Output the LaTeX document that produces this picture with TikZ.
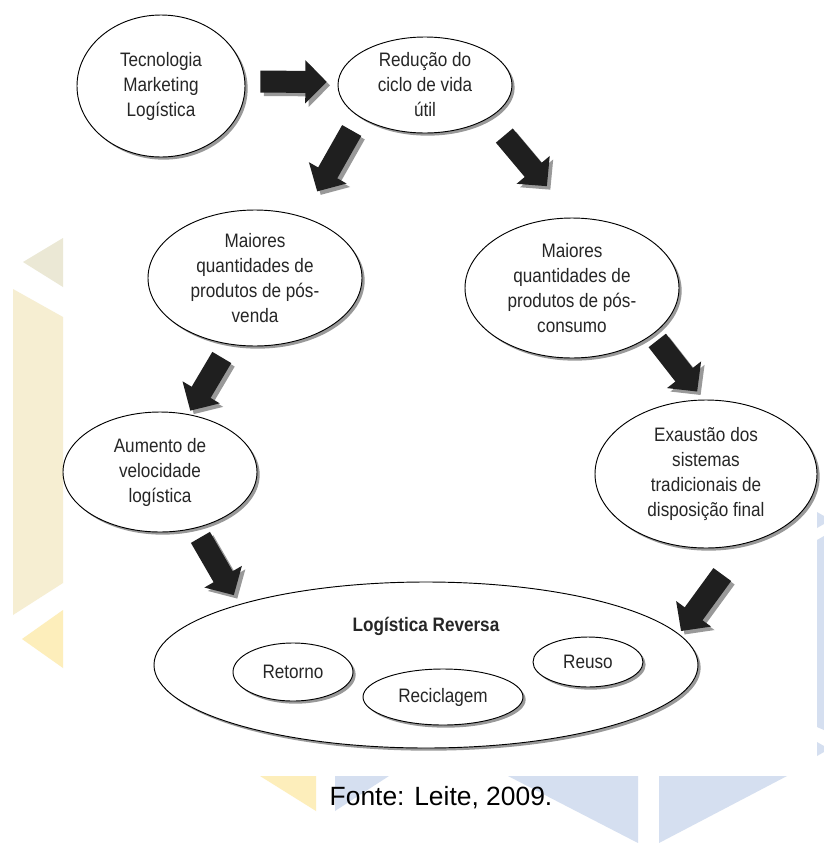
\documentclass[tikz,border=0pt]{standalone}
\usepackage{fontspec}
\setmainfont{Liberation Sans}[FakeStretch=0.88]
\newfontfamily\capfont{Liberation Sans}
\usetikzlibrary{shapes.geometric,arrows.meta,shadows}
\definecolor{wmgray}{HTML}{EBE8D5}
\definecolor{wmbeige}{HTML}{F6EED2}
\definecolor{wmyellow}{HTML}{FDEEBB}
\definecolor{wmblue}{HTML}{D5DFF0}

\begin{document}
\begin{tikzpicture}[x=0.75pt,y=-0.75pt,
    bubble/.style={ellipse, draw, line width=0.7pt, fill=white, inner sep=0pt, align=center,
        font=\fontsize{14.6}{18.75}\selectfont, text=black!85,
        drop shadow={shadow xshift=2pt, shadow yshift=-2pt, fill=black!40, opacity=1}},
    blockarrow/.style={line width=16.5pt, -{Triangle[length=16pt,width=31.5pt]}, draw=black!88},
    arrowshade/.style={blockarrow, draw=black!40, transform canvas={shift={(2.6pt,-2.6pt)}}}]

    \fill[white] (0,0) rectangle (824,843);
    \useasboundingbox (0,0) rectangle (824,843);

    % watermark shapes
    \fill[wmgray] (63,238) -- (63,287) -- (23,262) -- cycle;
    \fill[wmbeige] (13,289) -- (63,317) -- (63,583) -- (13,615) -- cycle;
    \fill[wmyellow] (63,610) -- (63,668) -- (22,639) -- cycle;
    \fill[wmyellow] (260,776) -- (316,776) -- (316,811) -- cycle;
    \fill[wmblue] (817,512) -- (824,516) -- (824,524) -- (817,528) -- cycle;
    \fill[wmblue] (817,540) -- (824,536) -- (824,730) -- (817,727) -- cycle;
    \fill[wmblue] (817,742) -- (824,746) -- (824,752) -- (817,756) -- cycle;
    \fill[wmblue] (335,776) -- (389,776) -- (335,811) -- cycle;
    \fill[wmblue] (508,776) -- (638,776) -- (638,843) -- cycle;
    \fill[wmblue] (659,776) -- (787,776) -- (659,843) -- cycle;

    % ellipses
    \node[bubble, minimum width=126pt, minimum height=106.5pt] (tec) at (161,86) {Tecnologia\\Marketing\\Logística};
    \node[bubble, minimum width=130.5pt, minimum height=72pt] (red) at (425,85) {Redução do\\ciclo de vida\\útil};
    \node[bubble, minimum width=160.5pt, minimum height=102pt] (mvenda) at (255,278) {Maiores\\quantidades de\\produtos de pós-\\venda};
    \node[bubble, minimum width=160.5pt, minimum height=105pt] (mcons) at (572,288) {Maiores\\quantidades de\\produtos de pós-\\consumo};
    \node[bubble, minimum width=145.5pt, minimum height=90pt] (aum) at (160,472) {Aumento de\\velocidade\\logística};
    \node[bubble, minimum width=166.5pt, minimum height=111pt] (exa) at (706,474) {Exaustão dos\\sistemas\\tradicionais de\\disposição final};
    \node[bubble, minimum width=408pt, minimum height=124.5pt] (lr) at (426,665) {};
    \node[font=\bfseries\fontsize{14.6}{18.75}\selectfont, text=black!85] (lrtitle) at (426,626) {Logística Reversa};
    \node[bubble, minimum width=90pt, minimum height=43.5pt] (ret) at (293,672) {Retorno};
    \node[bubble, minimum width=120pt, minimum height=42pt] (rec) at (443,697) {Reciclagem};
    \node[bubble, minimum width=82.5pt, minimum height=37.5pt] (reu) at (588,662) {Reuso};

    % block arrows
    \foreach \from/\to/\sa/\sb in {tec.3/red.178/11.3/8.3, red.206/mvenda.52/11.6/21.8,
        red.333/mcons.89/17.4/30.7, mvenda.249/aum.64/11.3/3, mcons.330/exa.92/5.6/7.6,
        aum.302/lr.162/7.8/7.9, exa.299/lr.7/28.5/2.7}
    {
        \draw[arrowshade, shorten <=\sa pt, shorten >=\sb pt] (\from) -- (\to);
        \draw[blockarrow, shorten <=\sa pt, shorten >=\sb pt] (\from) -- (\to);
    }

    \node[font=\capfont\fontsize{19.8}{24}\selectfont, anchor=base] (fonte) at (441,805) {Fonte: Leite, 2009.};
\end{tikzpicture}
\end{document}
